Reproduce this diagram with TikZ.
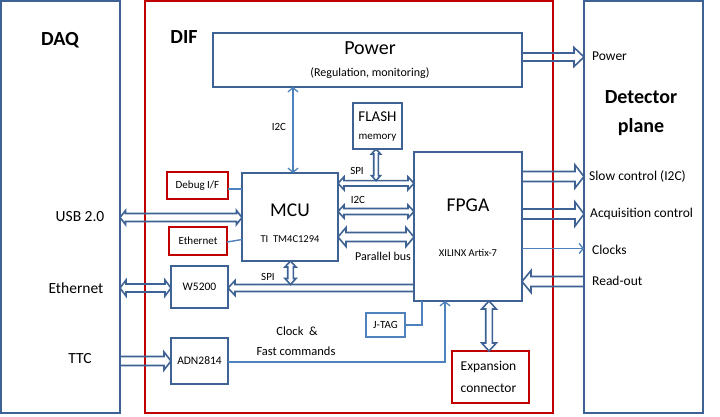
\documentclass[tikz,border=0pt]{standalone}
\usepackage{fontspec}
\setmainfont{Carlito}
\usetikzlibrary{calc,arrows.meta}
\definecolor{bxblue}{RGB}{62,98,148}
\definecolor{lnblue}{RGB}{79,129,189}
\definecolor{difred}{RGB}{192,0,0}
\newcommand\fsz[1]{\fontsize{#1}{#1}\selectfont}
% single-headed block arrow: [style]{start}{end}{half shaft}{half head}{head length}
\newcommand\BlkOne[6][]{%
  \coordinate (bbq) at ($(#3)!#6!(#2)$);
  \draw[blk,#1] ($(#2)!#4!90:(#3)$) -- ($(bbq)!#4!-90:(#2)$) -- ($(bbq)!#5!-90:(#2)$) -- (#3)
     -- ($(bbq)!#5!90:(#2)$) -- ($(bbq)!#4!90:(#2)$) -- ($(#2)!#4!-90:(#3)$);
}
% double-headed block arrow
\newcommand\BlkTwo[6][]{%
  \coordinate (baq) at ($(#2)!#6!(#3)$);
  \coordinate (bbq) at ($(#3)!#6!(#2)$);
  \draw[blk,#1] ($(baq)!#4!90:(#3)$) -- ($(bbq)!#4!-90:(#2)$) -- ($(bbq)!#5!-90:(#2)$) -- (#3)
     -- ($(bbq)!#5!90:(#2)$) -- ($(bbq)!#4!90:(#2)$) -- ($(baq)!#4!-90:(#3)$)
     -- ($(baq)!#5!-90:(#3)$) -- (#2) -- ($(baq)!#5!90:(#3)$) -- cycle;
}
\tikzset{
  bbox/.style={draw=bxblue, line width=2pt, inner sep=0pt, outer sep=0pt},
  rbox/.style={draw=difred, line width=2pt, inner sep=0pt, outer sep=0pt},
  jbox/.style={draw=lnblue, line width=1.4pt, inner sep=0pt, outer sep=0pt},
  blk/.style={draw=bxblue, line width=1.6pt, line join=miter},
  tline/.style={draw=lnblue, line width=1.4pt},
  tarr/.style={tline, -{Straight Barb[length=4pt,width=10pt,line width=1.3pt]}},
  tarrs/.style={tline, {Straight Barb[length=4pt,width=10pt,line width=1.3pt]}-{Straight Barb[length=4pt,width=10pt,line width=1.3pt]}},
  lbl/.style={inner sep=0pt, text=black},
}
\begin{document}
\begin{tikzpicture}[x=1pt,y=-1pt]
\useasboundingbox[fill=white] (0,0) rectangle (720,416);

% main frames
\node[bbox, minimum width=119pt, minimum height=412pt] (daq) at (60.5,207) {};
\node[rbox, minimum width=408pt, minimum height=412pt] (dif) at (349,207) {};
\node[bbox, minimum width=119pt, minimum height=412pt] (det) at (643.5,207) {};

% inner blocks
\node[bbox, minimum width=309pt, minimum height=54pt] (power) at (367.5,60) {};
\node[bbox, minimum width=49pt, minimum height=46pt] (flash) at (377.5,126) {};
\node[bbox, minimum width=108pt, minimum height=149pt] (fpga) at (468,226.5) {};
\node[bbox, minimum width=96pt, minimum height=88pt] (mcu) at (290,217) {};
\node[rbox, minimum width=61pt, minimum height=27pt] (debug) at (197.5,185.5) {\fsz{11}Debug I/F};
\node[rbox, minimum width=58pt, minimum height=28pt] (eth) at (198,241) {\fsz{11}Ethernet};
\node[bbox, minimum width=57pt, minimum height=42pt] (w5200) at (199.5,287) {\fsz{11.5}W5200};
\node[bbox, minimum width=57pt, minimum height=46pt] (adn) at (199.5,361) {\fsz{11.5}ADN2814};
\node[jbox, minimum width=39pt, minimum height=24pt] (jtag) at (385.5,325) {\fsz{11}J-TAG};
\node[rbox, minimum width=77pt, minimum height=52pt] (exp) at (490.5,377) {};

% titles and box texts
\node[lbl, font=\bfseries\fsz{20}] (tdaq) at (60,40) {DAQ};
\node[lbl, font=\bfseries\fsz{20}] (tdif) at (184,37) {DIF};
\node[lbl, font=\bfseries\fsz{20}] (tdet1) at (641,97) {Detector};
\node[lbl, font=\bfseries\fsz{20}] (tdet2) at (641,127) {plane};
\node[lbl, font=\fsz{20}] (tpow1) at (370,48) {Power};
\node[lbl, font=\fsz{12}] (tpow2) at (370,73) {(Regulation, monitoring)};
\node[lbl, font=\fsz{15}] (tfl1) at (377.5,117) {FLASH};
\node[lbl, font=\fsz{11}] (tfl2) at (377.5,138) {memory};
\node[lbl, font=\fsz{19.5}] (tmcu1) at (290,210) {MCU};
\node[lbl, font=\fsz{10.5}] (tmcu2) at (290,239) {TI\ \ TM4C1294};
\node[lbl, font=\fsz{19.5}] (tfp1) at (468,205) {FPGA};
\node[lbl, font=\fsz{10.5}] (tfp2) at (468,253) {XILINX Artix-7};
\node[lbl, font=\fsz{13.5}] (tex1) at (488.5,367) {Expansion};
\node[lbl, font=\fsz{13.5}] (tex2) at (488.5,388) {connector};

% connector labels
\node[lbl, font=\fsz{15.5}] (lusb) at (80,217) {USB 2.0};
\node[lbl, font=\fsz{15.5}] (leth) at (76,288) {Ethernet};
\node[lbl, font=\fsz{15.5}] (lttc) at (80,359) {TTC};
\node[lbl, font=\fsz{11}] (li2ca) at (279,127) {I2C};
\node[lbl, font=\fsz{11}] (lspia) at (357,171) {SPI};
\node[lbl, font=\fsz{11}] (li2cb) at (358,200) {I2C};
\node[lbl, font=\fsz{12}] (lpar) at (383,256) {Parallel bus};
\node[lbl, font=\fsz{11}] (lspib) at (268,277) {SPI};
\node[lbl, font=\fsz{12.5}] (lclk1) at (297,331) {Clock\ \ \&};
\node[lbl, font=\fsz{12.5}] (lclk2) at (296,351) {Fast commands};
\node[lbl, font=\fsz{13.5}, anchor=west] (rpow) at (592,56) {Power};
\node[lbl, font=\fsz{13.5}, anchor=west] (rslow) at (589,176) {Slow control (I2C)};
\node[lbl, font=\fsz{13.5}, anchor=west] (racq) at (590,214) {Acquisition control};
\node[lbl, font=\fsz{13.5}, anchor=west] (rclk) at (592,250) {Clocks};
\node[lbl, font=\fsz{13.5}, anchor=west] (rro) at (592,281) {Read-out};

% anchor coordinates for block arrows
\coordinate (pwA) at (power.east |- 0,57);   \coordinate (pwB) at (det.west |- 0,57);
\coordinate (slA) at (fpga.east |- 0,176.5); \coordinate (slB) at (det.west |- 0,176.5);
\coordinate (acA) at (fpga.east |- 0,214);   \coordinate (acB) at (det.west |- 0,214);
\coordinate (roA) at (det.west |- 0,281.5);  \coordinate (roB) at (fpga.east |- 0,281.5);
\coordinate (spA) at (mcu.east |- 0,183.3);  \coordinate (spB) at (fpga.west |- 0,183.3);
\coordinate (icA) at (mcu.east |- 0,211.5);  \coordinate (icB) at (fpga.west |- 0,211.5);
\coordinate (paA) at (mcu.east |- 0,237);    \coordinate (paB) at (fpga.west |- 0,237);
\coordinate (usA) at (daq.east |- 0,217.5);  \coordinate (usB) at (mcu.west |- 0,217.5);
\coordinate (etA) at (daq.east |- 0,288);    \coordinate (etB) at (w5200.west |- 0,288);
\coordinate (wsA) at (fpga.west |- 0,288);   \coordinate (wsB) at (w5200.east |- 0,288);
\coordinate (ttA) at (daq.east |- 0,361);    \coordinate (ttB) at (adn.west |- 0,361);
\coordinate (exA) at (489,0 |- fpga.south);  \coordinate (exB) at (489,0 |- exp.north);
\coordinate (flA) at (376,0 |- flash.south); \coordinate (flB) at (376,180.6);
\coordinate (msA) at (290.5,0 |- mcu.south); \coordinate (msB) at (290.5,284.5);

% block arrows
\BlkOne{pwA}{pwB}{4pt}{9.5pt}{10pt}
\BlkOne{slA}{slB}{5pt}{11.5pt}{9pt}
\BlkOne{acA}{acB}{5pt}{12pt}{9pt}
\BlkOne{roA}{roB}{5pt}{11pt}{9pt}
\BlkTwo{spA}{spB}{2.7pt}{6.5pt}{6pt}
\BlkTwo{icA}{icB}{3pt}{6.5pt}{6pt}
\BlkTwo{paA}{paB}{4.5pt}{9.5pt}{8pt}
\BlkTwo{usA}{usB}{4pt}{7pt}{5.5pt}
\BlkTwo{etA}{etB}{4pt}{8pt}{6pt}
\BlkOne{wsA}{wsB}{3.5pt}{7.5pt}{7pt}
\BlkOne{ttA}{ttB}{4.5pt}{9pt}{7pt}
\BlkTwo{exA}{exB}{3.3pt}{7.3pt}{8pt}
\BlkTwo{flA}{flB}{2.3pt}{4.5pt}{5pt}
\BlkTwo{msA}{msB}{2.8pt}{5.5pt}{6pt}

% thin connectors
\draw[tarrs] (293,0 |- power.south) -- (293,0 |- mcu.north);
\draw[tarr] (fpga.east |- 0,248.5) -- (det.west |- 0,248.5);
\draw[tarr] (adn.east |- 0,362) -| (445,0 |- fpga.south);
\draw[tline] (jtag.east) -| (422,0 |- fpga.south);
\draw[tline] (debug.east |- 0,189) -- (mcu.west |- 0,189);
\draw[tline] (eth.east |- 0,242) -- (mcu.west |- 0,239.5);
\end{tikzpicture}
\end{document}
